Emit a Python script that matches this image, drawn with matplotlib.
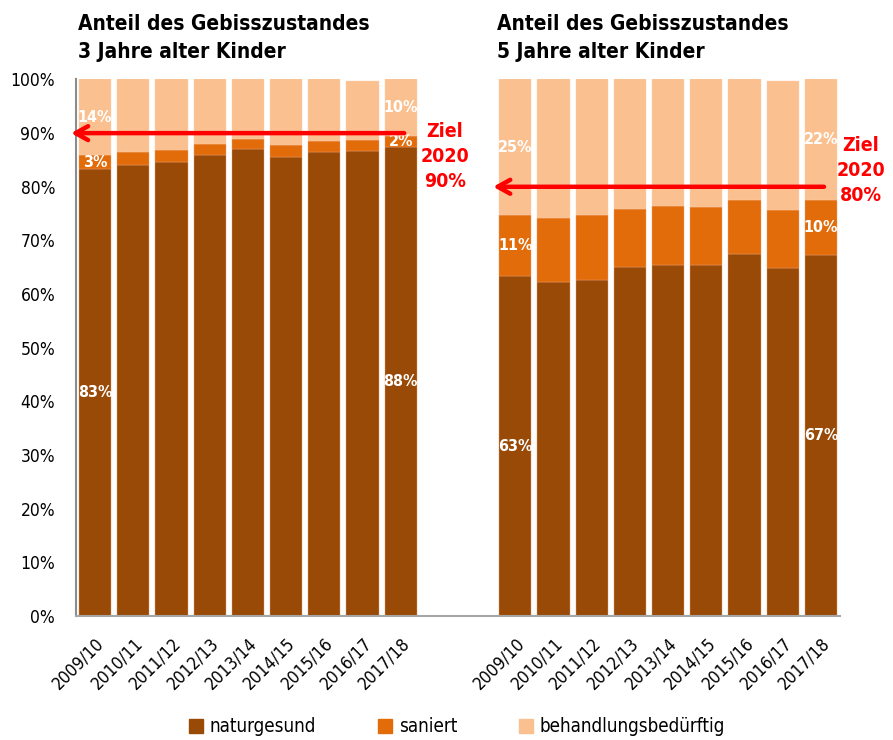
import numpy as np
import matplotlib
matplotlib.use("Agg")
import matplotlib.pyplot as plt
from matplotlib.patches import Patch

plt.rcParams['font.family'] = ['DejaVu Sans']
plt.rcParams['font.stretch'] = 'condensed'

years = ["2009/10", "2010/11", "2011/12", "2012/13", "2013/14",
         "2014/15", "2015/16", "2016/17", "2017/18"]

# 3 Jahre alte Kinder (Anteile in %)
nat_3 = [83.3, 84.1, 84.6, 85.9, 87.0, 85.6, 86.4, 86.7, 87.5]
san_3 = [2.6, 2.4, 2.2, 2.1, 1.9, 2.1, 2.1, 2.0, 1.9]
beh_3 = [14.1, 13.5, 13.2, 12.0, 11.1, 12.3, 11.5, 11.1, 10.6]

# 5 Jahre alte Kinder (Anteile in %)
nat_5 = [63.3, 62.2, 62.7, 65.1, 65.4, 65.4, 67.5, 64.9, 67.3]
san_5 = [11.4, 12.0, 12.0, 10.8, 11.1, 10.9, 10.1, 10.8, 10.2]
beh_5 = [25.3, 25.8, 25.3, 24.1, 23.5, 23.7, 22.4, 24.1, 22.5]

labels_3 = {0: ("83%", "3%", "14%"), 8: ("88%", "2%", "10%")}
labels_5 = {0: ("63%", "11%", "25%"), 8: ("67%", "10%", "22%")}

ziel = [90, 80]

c_nat = "#994A07"
c_san = "#E36C0A"
c_beh = "#FAC090"

fig = plt.figure(figsize=(8.93, 7.40), dpi=100)
ax = fig.add_axes([0.0851, 0.1676, 0.8556, 0.725])

x3 = np.arange(9)
x5 = np.arange(9) + 11
w = 0.84

for xs, nat, san, beh, labs in [(x3, nat_3, san_3, beh_3, labels_3),
                                (x5, nat_5, san_5, beh_5, labels_5)]:
    nat = np.array(nat); san = np.array(san); beh = np.array(beh)
    ax.bar(xs, nat, w, color=c_nat, edgecolor="#e8a070", linewidth=0.3)
    ax.bar(xs, san, w, bottom=nat, color=c_san, edgecolor="#f0a070", linewidth=0.3)
    ax.bar(xs, beh, w, bottom=nat + san, color=c_beh, edgecolor="#fbd0b0", linewidth=0.3)
    # Beschriftung nur am ersten und letzten Jahr
    for i, (ln, ls, lb) in labs.items():
        ax.text(xs[i], nat[i] / 2, ln, ha="center", va="center", color="white",
                fontsize=11.5, fontweight="bold")
        ax.text(xs[i], nat[i] + san[i] / 2, ls, ha="center", va="center",
                color="white", fontsize=11.5, fontweight="bold")
        ax.text(xs[i], nat[i] + san[i] + beh[i] / 2, lb, ha="center", va="center",
                color="white", fontsize=11.5, fontweight="bold")

ax.set_xlim(-0.5, 19.5)
ax.set_ylim(0, 100)
ax.set_yticks(np.arange(0, 101, 10))
ax.set_yticklabels([f"{v}%" for v in range(0, 101, 10)], fontsize=12.5)
ax.set_xticks(np.concatenate([x3, x5]))
ax.set_xticklabels(years + years, rotation=45, ha="right", va="top",
                   rotation_mode="anchor", fontsize=12.5)
ax.tick_params(axis="y", length=0, pad=15)
ax.tick_params(axis="x", length=0, pad=13)
for s in ["top", "right"]:
    ax.spines[s].set_visible(False)
ax.spines["left"].set_color("#8c8c8c")
ax.spines["bottom"].set_color("#a6a6a6")
ax.spines["left"].set_linewidth(1.5)
ax.spines["bottom"].set_linewidth(1.5)

# Ziel-Pfeile
arrow = dict(arrowstyle="->,head_length=0.9,head_width=0.5", color="#FF0000",
             lw=3.2, shrinkA=0, shrinkB=0)
ax.annotate("", xy=(-0.63, ziel[0]), xytext=(8.09, ziel[0]),
            arrowprops=arrow, annotation_clip=False)
ax.annotate("", xy=(10.42, ziel[1]), xytext=(19.08, ziel[1]),
            arrowprops=arrow, annotation_clip=False)
ax.text(9.15, 85.6, f"Ziel\n2020\n{ziel[0]}%", ha="center", va="center",
        color="#FF0000", fontsize=14, fontweight="bold", linespacing=1.4,
        clip_on=False)
ax.text(20.05, 83.1, f"Ziel\n2020\n{ziel[1]}%", ha="center", va="center",
        color="#FF0000", fontsize=14, fontweight="bold", linespacing=1.4,
        clip_on=False)

fig.text(78 / 893, 1 - 38 / 740, "Anteil des Gebisszustandes\n3 Jahre alter Kinder",
         ha="left", va="center", fontsize=15, fontweight="bold", linespacing=1.55)
fig.text(497 / 893, 1 - 38 / 740, "Anteil des Gebisszustandes\n5 Jahre alter Kinder",
         ha="left", va="center", fontsize=15, fontweight="bold", linespacing=1.55)

handles = [Patch(color=c_nat, label="naturgesund"),
           Patch(color=c_san, label="saniert"),
           Patch(color=c_beh, label="behandlungsbedürftig")]
fig.legend(handles=handles, loc="center", bbox_to_anchor=(0.512, 1 - 727 / 740),
           ncol=3, frameon=False, fontsize=13.5, handlelength=0.75, handleheight=0.75,
           handletextpad=0.35, columnspacing=3.3)

fig.savefig("out.png", dpi=100)
